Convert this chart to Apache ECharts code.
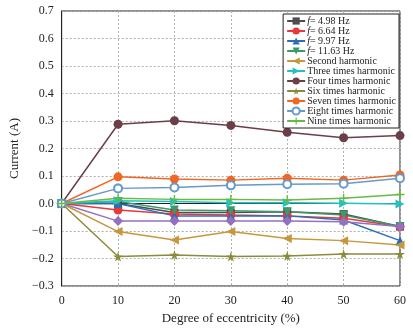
<!DOCTYPE html>
<html><head><meta charset="utf-8">
<script src="https://cdn.jsdelivr.net/npm/echarts@6/dist/echarts.min.js"></script>
<style>html,body{margin:0;padding:0;background:#fff}#c{width:413px;height:336px}</style>
</head><body><div id="c"></div>
<script>
const ecc = [0, 10, 20, 30, 40, 50, 60];
const f498 = [0, 0.0, -0.033, -0.033, -0.030, -0.038, -0.084];
const f664 = [0, -0.024, -0.038, -0.042, -0.045, -0.054, -0.084];
const f997 = [0, 0.0, -0.045, -0.045, -0.045, -0.060, -0.135];
const f1163 = [0, 0.007, -0.024, -0.026, -0.030, -0.042, -0.084];
const fifthH = [0, -0.064, -0.064, -0.064, -0.064, -0.066, -0.084];
const secondH = [0, -0.102, -0.133, -0.102, -0.127, -0.135, -0.151];
const threeH = [0, 0.010, 0.007, 0.003, 0.003, 0.001, -0.002];
const fourH = [0, 0.288, 0.301, 0.284, 0.259, 0.239, 0.247];
const sixH = [0, -0.193, -0.187, -0.193, -0.191, -0.184, -0.184];
const sevenH = [0, 0.097, 0.089, 0.085, 0.092, 0.085, 0.104];
const eightH = [0, 0.055, 0.058, 0.066, 0.070, 0.072, 0.092];
const nineH = [0, 0.019, 0.015, 0.015, 0.013, 0.019, 0.033];

const star = 'path://M50,0 L61,35 L98,35 L68,57 L79,91 L50,70 L21,91 L32,57 L2,35 L39,35 Z';
const plus = 'path://M42,0 H58 V42 H100 V58 H58 V100 H42 V58 H0 V42 H42 Z';

const defs = [
  {name: 'f= 4.98 Hz', data: f498, color: '#4d4d4d', symbol: 'rect', rot: 0, size: 8},
  {name: 'f= 6.64 Hz', data: f664, color: '#e8393c', symbol: 'circle', rot: 0, size: 9},
  {name: 'f= 9.97 Hz', data: f997, color: '#2a6ebb', symbol: 'triangle', rot: 0, size: 9},
  {name: 'f= 11.63 Hz', data: f1163, color: '#3a9a6a', symbol: 'triangle', rot: 180, size: 9},
  {name: 'Fifth harmonic', data: fifthH, color: '#9370c0', symbol: 'diamond', rot: 0, size: 10, hide: true},
  {name: 'Second harmonic', data: secondH, color: '#c8963c', symbol: 'triangle', rot: 90, size: 9},
  {name: 'Three times harmonic', data: threeH, color: '#26c0c0', symbol: 'triangle', rot: -90, size: 9},
  {name: 'Four times harmonic', data: fourH, color: '#6b3f47', symbol: 'circle', rot: 0, size: 9},
  {name: 'Six times harmonic', data: sixH, color: '#8b8b3c', symbol: star, rot: 0, size: 10},
  {name: 'Seven times harmonic', data: sevenH, color: '#f26522', symbol: 'circle', rot: 0, size: 9},
  {name: 'Eight times harmonic', data: eightH, color: '#6699cc', symbol: 'emptyCircle', rot: 0, size: 8},
  {name: 'Nine times harmonic', data: nineH, color: '#66bb44', symbol: plus, rot: 0, size: 9}
];

const series = defs.map(d => ({
  name: d.name,
  type: 'line',
  data: ecc.map((x, i) => [x, d.data[i]]),
  symbol: d.symbol,
  symbolRotate: d.rot,
  symbolSize: d.size,
  showSymbol: true,
  lineStyle: {width: 1.5, color: d.color},
  itemStyle: {color: d.color, borderWidth: d.symbol === 'emptyCircle' ? 2.5 : 0, borderColor: d.color},
  animation: false
}));

const font = 'Liberation Serif';
const chart = echarts.init(document.getElementById('c'));
chart.setOption({
  backgroundColor: '#fff',
  textStyle: {fontFamily: font},
  grid: {left: 59, right: 13, top: 11, bottom: 50, show: true, borderColor: '#222', borderWidth: 1},
  legend: {
    data: defs.filter(d => !d.hide).map(d => d.name),
    orient: 'vertical', right: 14, top: 14,
    itemWidth: 18, itemHeight: 9, itemGap: 0,
    backgroundColor: '#fff', borderColor: '#222', borderWidth: 1, padding: [2, 3, 2, 3],
    formatter: n => n.startsWith('f=') ? '{i|f}' + n.slice(1) : n,
    textStyle: {fontFamily: font, fontSize: 10, color: '#222', lineHeight: 10, padding: [0, 0, 0, -3],
      rich: {i: {fontFamily: font, fontSize: 10, fontStyle: 'italic', color: '#222', lineHeight: 10}}}
  },
  xAxis: {
    type: 'value', min: 0, max: 60, interval: 10,
    name: 'Degree of eccentricity (%)', nameLocation: 'middle', nameGap: 24,
    nameTextStyle: {fontFamily: font, fontSize: 13, color: '#222'},
    axisLine: {lineStyle: {color: '#222'}},
    axisTick: {show: false},
    axisLabel: {fontFamily: font, fontSize: 12, color: '#222', margin: 9},
    splitLine: {show: true, lineStyle: {color: '#b0b0b0', type: [2, 2]}}
  },
  yAxis: {
    type: 'value', min: -0.3, max: 0.7, interval: 0.1,
    name: 'Current (A)', nameLocation: 'middle', nameGap: 38,
    nameTextStyle: {fontFamily: font, fontSize: 13, color: '#222'},
    axisLine: {lineStyle: {color: '#222'}},
    axisTick: {show: false},
    axisLabel: {fontFamily: font, fontSize: 12, color: '#222', margin: 8,
      formatter: v => v.toFixed(1).replace('-', '\u2212').replace('\u22120.0', '0.0')},
    splitLine: {show: true, lineStyle: {color: '#b0b0b0', type: [2, 2]}}
  },
  series: series
});
</script></body></html>
